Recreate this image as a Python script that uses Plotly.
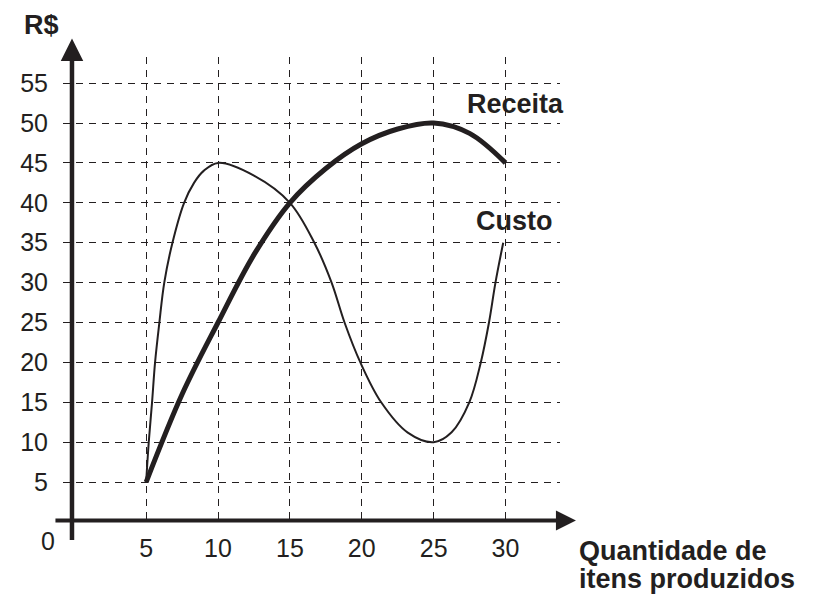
import plotly.graph_objects as go

# valores
receita_x = [5, 7.5, 10, 12.5, 15, 17.5, 20, 22.5, 25, 27.5, 30]
receita_y = [5, 16, 25, 33.5, 40, 44.3, 47.4, 49.25, 50, 48.7, 45]

custo_x = [5, 5.18, 5.41, 5.62, 5.92, 6.26, 6.83, 7.64, 8.33, 9.0, 10, 12.5, 15, 16.7,
           17.9, 18.8, 19.9, 21.35, 23.2, 25, 26.25, 27.48, 28.28, 28.85, 29.3, 29.84]
custo_y = [5, 10, 15, 20, 25, 30, 35, 40, 42.5, 44, 45, 43.4, 40, 35,
           30, 25, 20, 15, 11.2, 10, 11.25, 15, 20, 25, 30, 35]

x_ticks = [5, 10, 15, 20, 25, 30]
y_ticks = [5, 10, 15, 20, 25, 30, 35, 40, 45, 50, 55]
y_ticks_fortes = [15, 20, 25, 30, 35, 40, 45]
x_ticks_fortes = [30]

INK = '#231f20'
FONT = 'Liberation Sans, Arial, sans-serif'
DASH = '7px,6px'

X_RANGE = [-0.785, 33.79]
Y_RANGE = [0, 58.27]


def xp(v):
    return (v - X_RANGE[0]) / (X_RANGE[1] - X_RANGE[0])


def yp(v):
    return (v - Y_RANGE[0]) / (Y_RANGE[1] - Y_RANGE[0])


fig = go.Figure()
fig.add_trace(go.Scatter(x=custo_x, y=custo_y, mode='lines', hoverinfo='skip',
                         line=dict(color=INK, width=2, shape='spline', smoothing=1),
                         showlegend=False))
fig.add_trace(go.Scatter(x=receita_x, y=receita_y, mode='lines', hoverinfo='skip',
                         line=dict(color=INK, width=5, shape='spline', smoothing=1),
                         showlegend=False))

eixo = dict(showline=False, zeroline=False, ticks='', gridcolor=INK, griddash=DASH,
            showgrid=True, tickfont=dict(family=FONT, size=25, color=INK),
            fixedrange=True)

# o body da página tem 8px de margem
fig.update_layout(
    width=814, height=601,
    margin=dict(l=50, r=262, t=49, b=87),
    paper_bgcolor='white', plot_bgcolor='white',
    xaxis=dict(eixo, range=X_RANGE, tickvals=x_ticks, gridwidth=1, ticklabelstandoff=9),
    yaxis=dict(eixo, range=Y_RANGE, tickvals=y_ticks, gridwidth=1, ticklabelstandoff=14),
    xaxis2=dict(eixo, range=X_RANGE, tickvals=x_ticks_fortes, gridwidth=2.2,
                overlaying='x', anchor='y', showticklabels=False),
    yaxis2=dict(eixo, range=Y_RANGE, tickvals=y_ticks_fortes, gridwidth=2,
                overlaying='y', anchor='x', showticklabels=False),
)

# eixos com setas
fig.add_annotation(xref='paper', yref='paper', x=xp(34.9), y=yp(0.2), text='',
                   showarrow=True, arrowhead=2, arrowsize=1, arrowwidth=4,
                   arrowcolor=INK, ax=-522, ay=0)
fig.add_annotation(xref='paper', yref='paper', x=xp(-0.16), y=yp(60.6), text='',
                   showarrow=True, arrowhead=2, arrowsize=1, arrowwidth=4.5,
                   arrowcolor=INK, ax=0, ay=503)

bold = dict(family=FONT, size=27, color=INK)
fig.add_annotation(xref='paper', yref='paper', x=xp(-2.25), y=yp(62.3), text='<b>R$</b>',
                   showarrow=False, font=bold, xanchor='center', yanchor='middle')
fig.add_annotation(xref='paper', yref='paper', x=xp(-1.8), y=yp(-2.4), text='0',
                   showarrow=False, font=dict(family=FONT, size=25, color=INK),
                   xanchor='center', yanchor='middle')
fig.add_annotation(x=27.2, y=52.4, text='<b>Receita</b>', showarrow=False,
                   xanchor='left', yanchor='middle', font=bold)
fig.add_annotation(x=27.8, y=37.7, text='<b>Custo</b>', showarrow=False,
                   xanchor='left', yanchor='middle', font=bold)
fig.add_annotation(xref='paper', yref='paper', x=xp(34.95), y=yp(-3.6),
                   text='<b>Quantidade de</b>', showarrow=False,
                   xanchor='left', yanchor='middle', font=bold)
fig.add_annotation(xref='paper', yref='paper', x=xp(34.95), y=yp(-7.2),
                   text='<b>itens produzidos</b>', showarrow=False,
                   xanchor='left', yanchor='middle', font=bold)

fig.write_html("out.html")
